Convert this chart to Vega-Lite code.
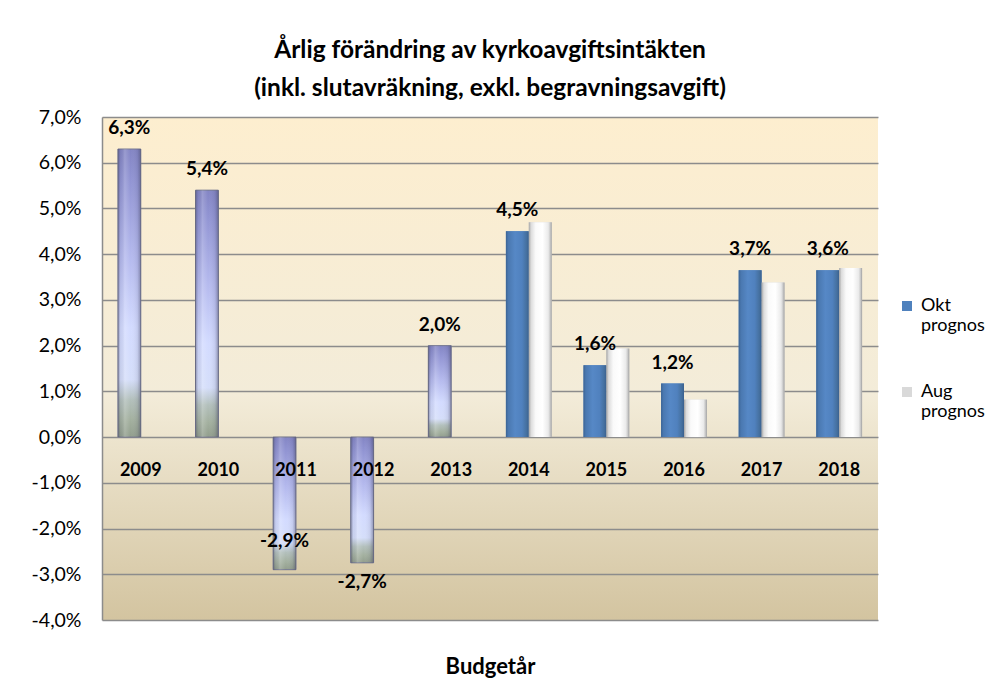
{
  "$schema": "https://vega.github.io/schema/vega-lite/v6.json",
  "width": 776,
  "height": 503,
  "autosize": {"type": "none"},
  "padding": {"left": 102, "top": 117, "right": 109, "bottom": 75},
  "background": "white",
  "config": {
    "font": "Lato",
    "view": {
      "stroke": null,
      "fill": {"gradient": "linear", "x1": 0, "y1": 0, "x2": 0, "y2": 1,
        "stops": [
          {"offset": 0, "color": "#FDEECF"},
          {"offset": 0.55, "color": "#F3ECD9"},
          {"offset": 1, "color": "#D3C4A0"}
        ]}
    }
  },
  "title": {
    "text": ["Årlig förändring av kyrkoavgiftsintäkten", "(inkl. slutavräkning, exkl. begravningsavgift)"],
    "font": "Lato",
    "fontSize": 24.5,
    "fontWeight": "bold",
    "color": "#000000",
    "lineHeight": 38,
    "offset": 6,
    "anchor": "middle"
  },
  "data": {
    "values": [
      {"year": 2009, "serie": "Okt prognos", "value": 6.3, "label": "6,3%"},
      {"year": 2010, "serie": "Okt prognos", "value": 5.4, "label": "5,4%"},
      {"year": 2011, "serie": "Okt prognos", "value": -2.9, "label": "-2,9%"},
      {"year": 2012, "serie": "Okt prognos", "value": -2.75, "label": "-2,7%"},
      {"year": 2013, "serie": "Okt prognos", "value": 2.0, "label": "2,0%"},
      {"year": 2014, "serie": "Okt prognos", "value": 4.5, "label": "4,5%"},
      {"year": 2014, "serie": "Aug prognos", "value": 4.7},
      {"year": 2015, "serie": "Okt prognos", "value": 1.57, "label": "1,6%"},
      {"year": 2015, "serie": "Aug prognos", "value": 1.94},
      {"year": 2016, "serie": "Okt prognos", "value": 1.17, "label": "1,2%"},
      {"year": 2016, "serie": "Aug prognos", "value": 0.82},
      {"year": 2017, "serie": "Okt prognos", "value": 3.65, "label": "3,7%"},
      {"year": 2017, "serie": "Aug prognos", "value": 3.38},
      {"year": 2018, "serie": "Okt prognos", "value": 3.65, "label": "3,6%"},
      {"year": 2018, "serie": "Aug prognos", "value": 3.7}
    ]
  },
  "encoding": {
    "x": {
      "field": "year", "type": "ordinal",
      "scale": {"type": "band", "paddingInner": 0.41, "paddingOuter": 0.205},
      "axis": {
        "title": "Budgetår", "labels": false, "ticks": false, "domain": false, "grid": false,
        "titleFont": "Lato", "titleFontSize": 22, "titleFontWeight": "bold", "titleColor": "#000000",
        "titlePadding": 36
      }
    },
    "y": {
      "field": "value", "type": "quantitative",
      "scale": {"domain": [-4, 7], "nice": false, "zero": false},
      "axis": {
        "title": null,
        "values": [-4, -3, -2, -1, 0, 1, 2, 3, 4, 5, 6, 7],
        "labelExpr": "replace(replace(format(datum.value, '.1f'), '.', ','), '\u2212', '-') + '%'",
        "labelFont": "Lato", "labelFontSize": 19.5, "labelColor": "#000000", "labelPadding": 21,
        "ticks": false,
        "domain": true, "domainColor": "#8C8C8C", "domainWidth": 1.5,
        "grid": true, "gridColor": "#8C8C8C", "gridWidth": 1.4
      }
    }
  },
  "layer": [
    {
      "mark": {"type": "bar", "strokeWidth": 0},
      "encoding": {
        "xOffset": {"field": "serie", "type": "nominal", "scale": {"domain": ["Okt prognos", "Aug prognos"]}},
        "color": {
          "field": "serie", "type": "nominal",
          "scale": {"domain": ["Okt prognos", "Aug prognos"], "range": ["#4F81BD", "#D9D9D9"]},
          "legend": {
            "title": null, "orient": "none", "legendX": 796, "legendY": 180,
            "labelExpr": "split(datum.label, ' ')",
            "labelFont": "Lato", "labelFontSize": 18, "labelColor": "#000000",
            "symbolType": "square", "symbolSize": 100, "symbolStrokeWidth": 0,
            "rowPadding": 48, "labelOffset": 5, "padding": 0
          }
        }
      }
    },
    {
      "transform": [{"filter": "datum.year <= 2013"}],
      "mark": {
        "type": "bar", "stroke": "#777990", "strokeWidth": 1,
        "fill": {"gradient": "linear", "x1": 0, "y1": 0, "x2": 0, "y2": 1,
          "stops": [
            {"offset": 0, "color": "#8385C4"},
            {"offset": 0.1, "color": "#9093D2"},
            {"offset": 0.38, "color": "#B5BAEE"},
            {"offset": 0.62, "color": "#D3DBFF"},
            {"offset": 0.8, "color": "#D5DEFA"},
            {"offset": 0.87, "color": "#B3C0BC"},
            {"offset": 0.94, "color": "#A3B09F"},
            {"offset": 1, "color": "#929E8D"}
          ]}
      },
      "encoding": {
        "xOffset": {"field": "serie", "type": "nominal", "scale": {"domain": ["Okt prognos", "Aug prognos"]}}
      }
    },
    {
      "transform": [{"filter": "datum.year <= 2013"}],
      "mark": {
        "type": "bar", "strokeWidth": 0,
        "fill": {"gradient": "linear", "x1": 0, "y1": 0, "x2": 1, "y2": 0,
          "stops": [
            {"offset": 0, "color": "rgba(60,60,90,0.45)"},
            {"offset": 0.12, "color": "rgba(60,60,90,0.08)"},
            {"offset": 0.3, "color": "rgba(255,255,255,0.18)"},
            {"offset": 0.55, "color": "rgba(255,255,255,0)"},
            {"offset": 0.85, "color": "rgba(60,60,90,0.1)"},
            {"offset": 1, "color": "rgba(60,60,90,0.45)"}
          ]}
      },
      "encoding": {
        "xOffset": {"field": "serie", "type": "nominal", "scale": {"domain": ["Okt prognos", "Aug prognos"]}}
      }
    },
    {
      "transform": [{"filter": "datum.year >= 2014 && datum.serie == 'Okt prognos'"}],
      "mark": {
        "type": "bar", "strokeWidth": 0,
        "fill": {"gradient": "linear", "x1": 0, "y1": 0, "x2": 1, "y2": 0,
          "stops": [
            {"offset": 0, "color": "#3B6393"},
            {"offset": 0.1, "color": "#4A78B0"},
            {"offset": 0.4, "color": "#5688C6"},
            {"offset": 0.7, "color": "#5081BE"},
            {"offset": 0.9, "color": "#45709F"},
            {"offset": 1, "color": "#3A608E"}
          ]}
      },
      "encoding": {
        "xOffset": {"field": "serie", "type": "nominal", "scale": {"domain": ["Okt prognos", "Aug prognos"]}}
      }
    },
    {
      "transform": [{"filter": "datum.serie == 'Aug prognos'"}],
      "mark": {
        "type": "bar", "strokeWidth": 0,
        "fill": {"gradient": "linear", "x1": 0, "y1": 0, "x2": 1, "y2": 0,
          "stops": [
            {"offset": 0, "color": "#A4A4A4"},
            {"offset": 0.1, "color": "#DCDCDC"},
            {"offset": 0.3, "color": "#FAFAFA"},
            {"offset": 0.6, "color": "#FFFFFF"},
            {"offset": 0.85, "color": "#EAEAEA"},
            {"offset": 0.93, "color": "#CACACA"},
            {"offset": 1, "color": "#A0A0A0"}
          ]}
      },
      "encoding": {
        "xOffset": {"field": "serie", "type": "nominal", "scale": {"domain": ["Okt prognos", "Aug prognos"]}}
      }
    },
    {
      "transform": [{"filter": "datum.serie == 'Okt prognos'"}],
      "mark": {
        "type": "text", "font": "Lato", "fontSize": 19, "fontWeight": "bold", "color": "#000000",
        "baseline": "middle", "align": "center",
        "dy": {"expr": "datum.value >= 0 ? -21 : (datum.value < -2.8 ? -29 : 19)"}
      },
      "encoding": {
        "xOffset": {"field": "serie", "type": "nominal", "scale": {"domain": ["Okt prognos", "Aug prognos"]}},
        "text": {"field": "label"}
      }
    },
    {
      "transform": [{"filter": "datum.serie == 'Okt prognos'"}],
      "mark": {
        "type": "text", "font": "Lato", "fontSize": 18, "fontWeight": "bold", "color": "#000000",
        "baseline": "middle", "align": "center", "dy": 34
      },
      "encoding": {
        "y": {"datum": 0},
        "text": {"field": "year", "type": "ordinal"}
      }
    }
  ]
}
